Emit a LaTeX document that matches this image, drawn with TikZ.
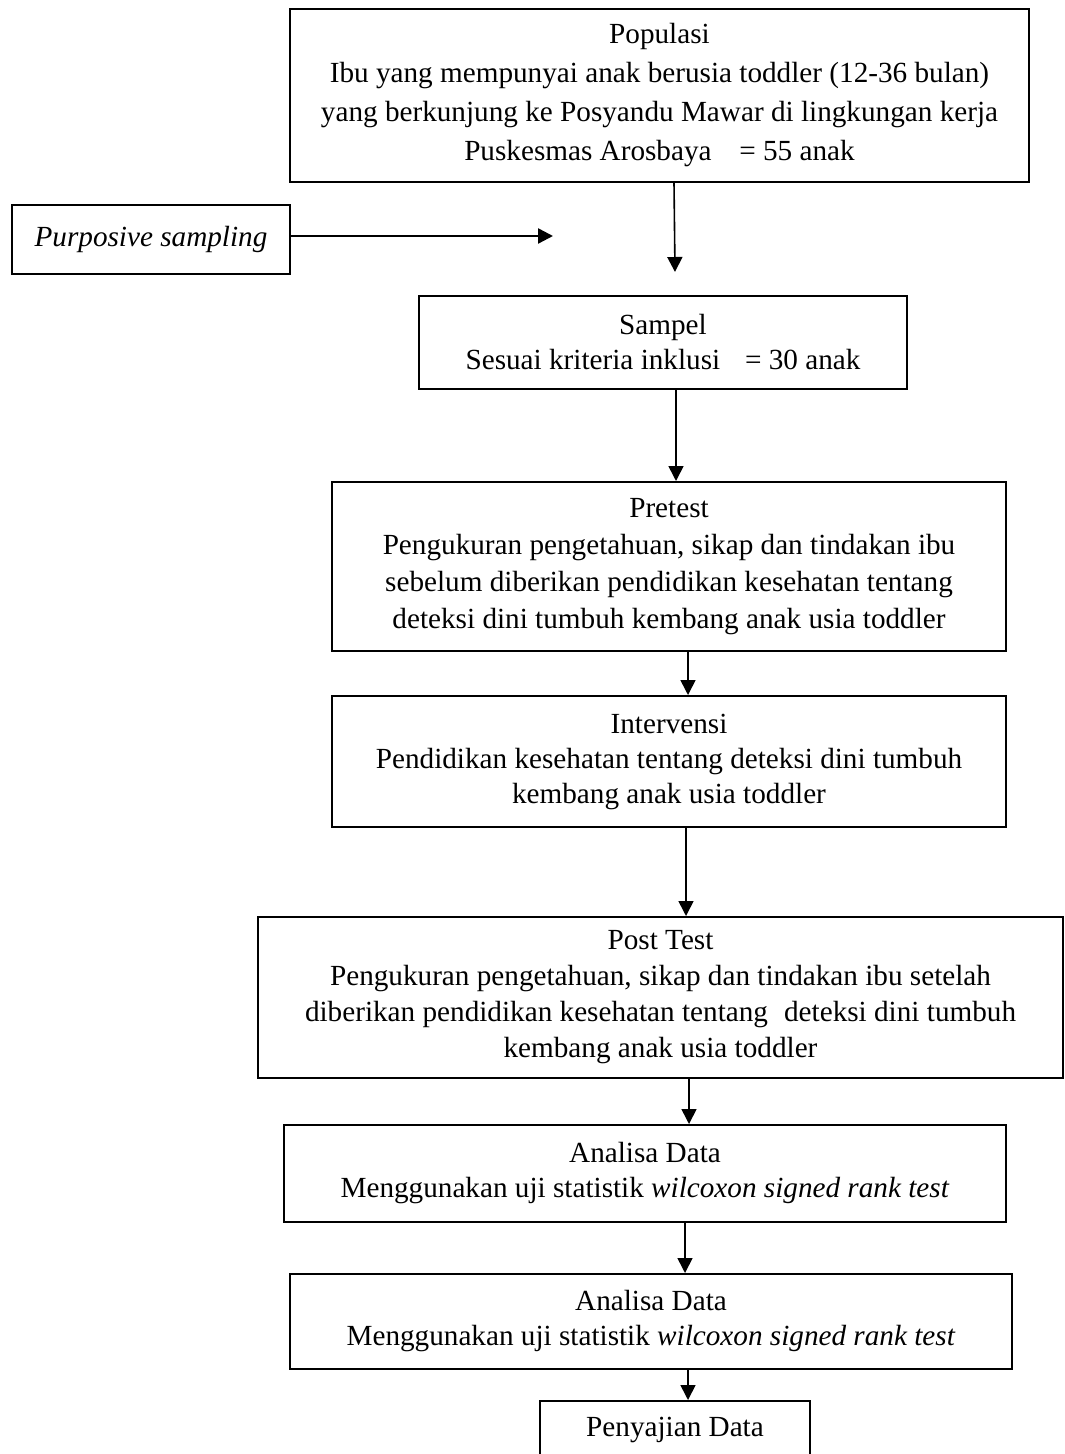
\documentclass[tikz,border=0pt]{standalone}
\usepackage{fontspec}
\setmainfont{Liberation Serif}
\usetikzlibrary{arrows.meta}
\begin{document}
\begin{tikzpicture}[x=0.5pt,y=-0.5pt,
  box/.style={draw=black, line width=1pt, rectangle, align=center, inner sep=0pt,
    font=\fontsize{14.6}{17.5}\selectfont},
  arr/.style={draw=black, line width=0.8pt, -{Triangle[width=7.5pt,length=7.5pt]}},
  thickarr/.style={draw=black, line width=1.2pt, -{Triangle[width=7.5pt,length=7.5pt]}}]
\clip (0,0) rectangle (1064,1454);
\fill[white] (0,0) rectangle (1064,1454);

\node[box, minimum width=369.5pt, minimum height=86.5pt,
  font=\fontsize{14.6}{19.5}\selectfont] (pop) at (659.5,95.5)
  {Populasi\\Ibu yang mempunyai anak berusia toddler (12-36 bulan)\\yang berkunjung ke Posyandu Mawar di lingkungan kerja\\Puskesmas Arosbaya\hspace{0.95em}= 55 anak};

\node[box, minimum width=139pt, minimum height=34.5pt] (purp) at (151,239.5)
  {\itshape Purposive sampling};
\coordinate (pend) at (553,236);

\node[box, minimum width=244pt, minimum height=46.5pt] (samp) at (663,342.5)
  {Sampel\\Sesuai kriteria inklusi\hspace{0.85em}= 30 anak};

\node[box, minimum width=337pt, minimum height=84.5pt,
  font=\fontsize{14.6}{18.5}\selectfont] (pre) at (669,566.5)
  {Pretest\\Pengukuran pengetahuan, sikap dan tindakan ibu\\sebelum diberikan pendidikan kesehatan tentang\\deteksi dini tumbuh kembang anak usia toddler};

\node[box, minimum width=337pt, minimum height=65.5pt] (int) at (669,761.5)
  {Intervensi\\Pendidikan kesehatan tentang deteksi dini tumbuh\\kembang anak usia toddler};

\node[box, minimum width=402.5pt, minimum height=80.5pt,
  font=\fontsize{14.6}{18}\selectfont] (post) at (660.5,997.5)
  {Post Test\\Pengukuran pengetahuan, sikap dan tindakan ibu setelah\\diberikan pendidikan kesehatan tentang\hspace{0.3em} deteksi dini tumbuh\\kembang anak usia toddler};

\node[box, minimum width=361pt, minimum height=48.5pt] (an1) at (645,1173.5)
  {Analisa Data\\Menggunakan uji statistik \textit{wilcoxon signed rank test}};

\node[box, minimum width=361pt, minimum height=47.5pt] (an2) at (651,1321.5)
  {Analisa Data\\Menggunakan uji statistik \textit{wilcoxon signed rank test}};

\node[box, minimum width=135pt, minimum height=29pt] (pen) at (675,1430)
  {Penyajian Data};

\draw[arr] ([xshift=7.25pt]pop.south) -- ([xshift=6pt,yshift=11.5pt]samp.north);
\draw[thickarr] ([yshift=1.75pt]purp.east) -- (pend);
\draw[arr] ([xshift=6.5pt]samp.south) -- ([xshift=3.5pt]pre.north);
\draw[arr] ([xshift=9.5pt]pre.south) -- ([xshift=9.5pt]int.north);
\draw[arr] ([xshift=8.5pt]int.south) -- ([xshift=12.75pt]post.north);
\draw[arr] ([xshift=14.25pt]post.south) -- ([xshift=22pt]an1.north);
\draw[arr] ([xshift=20pt]an1.south) -- ([xshift=17pt]an2.north);
\draw[arr] ([xshift=18.5pt]an2.south) -- ([xshift=6.5pt]pen.north);
\end{tikzpicture}
\end{document}
